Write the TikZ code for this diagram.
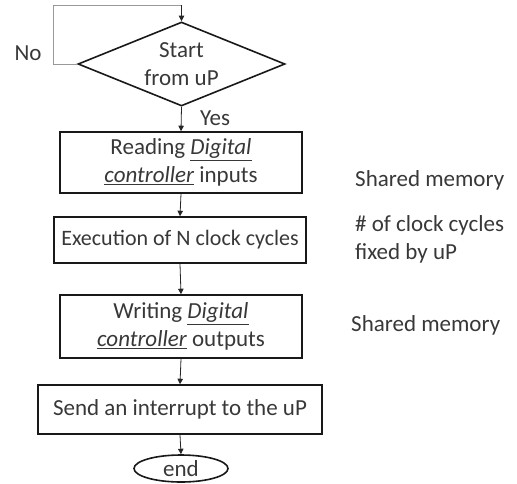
\documentclass[tikz,border=0pt]{standalone}
\usepackage{fontspec}
\setmainfont{Carlito}
\usetikzlibrary{arrows.meta,shapes.geometric}

\tikzset{
  txt/.style={font=\fontsize{23}{27.5}\selectfont, text=black!78},
  procbox/.style={draw=black!90, line width=1.6pt, rectangle, inner sep=0pt, align=center, txt},
  flow/.style={draw=black!85, line width=0.8pt, -{Triangle[length=5.5pt,width=5.5pt]}},
  loopline/.style={draw=black!40, line width=1pt},
  note/.style={txt, anchor=west, align=left, inner sep=0pt}
}

\begin{document}
\begin{tikzpicture}[x=1pt,y=-1pt]
\useasboundingbox (0,0) rectangle (517,483);

% decision
\node[diamond, draw=black!90, line width=1.6pt, inner sep=0pt,
      minimum width=207pt, minimum height=84pt] (dec) at (181.5,64) {};
\node[txt, align=center, inner sep=0pt] (dectext) at (181.5,64) {Start\\from uP};

% process steps
\node[procbox, minimum width=242pt, minimum height=61pt] (read) at (181,162.5)
  {Reading \underline{\textit{Digital}}\\\underline{\textit{controller}} inputs};
\node[procbox, minimum width=252pt, minimum height=46pt,
      font=\fontsize{22}{27}\selectfont] (exec) at (180,240)
  {Execution of N clock cycles};
\node[procbox, minimum width=242pt, minimum height=63pt] (write) at (181,326.5)
  {Writing \underline{\textit{Digital}}\\\underline{\textit{controller}} outputs};
\node[procbox, minimum width=284pt, minimum height=49pt] (irq) at (180,409.5)
  {Send an interrupt to the uP};
\node[ellipse, draw=black!90, line width=1.6pt, inner sep=0pt,
      minimum width=94pt, minimum height=27pt, txt] (end) at (181,468.5) {end};

% waiting loop back to the decision
\coordinate (corner) at (53,5);
\coordinate (top) at (181.5,5);
\draw[loopline] (dec.west) -| (corner) -- (top);
\draw[flow] (top) -- (dec.north);

% main flow
\draw[flow] (dec.south) -- (read.north);
\draw[flow] (read.south) -- (exec.north);
\draw[flow] (exec.south) -- (write.north);
\draw[flow] (write.south) -- (irq.north);
\draw[flow] (irq.south) -- (end.north);

% branch labels
\node[txt, inner sep=0pt] (no) at (28,53) {No};
\node[txt, inner sep=0pt] (yes) at (215,118) {Yes};

% side notes
\node[note] (mem1) at (355,180) {Shared memory};
\node[note] (cycles) at (355,239.5) {\# of clock cycles\\fixed by uP};
\node[note] (mem2) at (351,325) {Shared memory};
\end{tikzpicture}
\end{document}
